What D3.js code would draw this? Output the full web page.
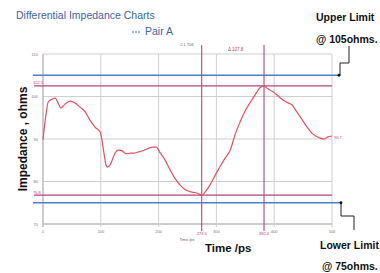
<!DOCTYPE html>
<html>
  <head>
    <meta charset="UTF-8">
    <style type="text/css">
      body { margin: 0; background: #fff; }
      * { font-family: 'Liberation Sans', Arial, sans-serif; }
    </style>
  </head>
  <body>
    <div id="canvas"></div>
    <script src="https://d3js.org/d3.v7.min.js"></script>
    <script type="text/javascript">
      // time (ps) and impedance (ohms) of Pair A
      var times = [0, 5, 9, 16, 21, 26, 31, 38, 47, 55, 64, 73, 81, 90, 99, 102, 106, 109, 112, 118,
        123, 130, 137, 144, 151, 157, 164, 176, 189, 196, 202, 211, 220, 228, 237, 247, 258, 266,
        275, 282, 289, 298, 306, 315, 324, 332, 341, 349, 358, 367, 375, 382, 389, 398, 407, 415,
        424, 431, 438, 445, 452, 458, 465, 472, 479, 486, 493, 500];
      var impedance = [89.8, 95.6, 98.7, 99.4, 99.6, 98.5, 97.3, 98.2, 98.9, 98.5, 97.5, 96.4, 94.5,
        92.8, 91.6, 89.8, 86.2, 83.9, 83.4, 84.4, 86.2, 87.4, 87.2, 86.5, 86.7, 86.7, 86.9, 87.4,
        88.1, 88.1, 86.9, 85.1, 82.7, 80.8, 79.2, 78.0, 77.5, 77.3, 76.8, 77.8, 79.2, 81.5, 83.4,
        85.5, 87.4, 90.9, 94.0, 96.4, 98.5, 100.4, 102.0, 102.5, 101.8, 101.1, 100.1, 99.2, 98.5,
        98.0, 96.6, 95.2, 93.8, 92.6, 91.4, 90.7, 90.2, 90.0, 90.5, 90.7];

      var xTicks = [0, 100, 200, 300, 400, 500];
      var yTicks = [70, 80, 90, 100, 110];
      var limits = [105, 75];            // upper / lower limit, ohms
      var extremes = [102.5, 76.8];      // max / min marker lines
      var cursors = [274.6, 382.4];      // time cursors, ps

      var W = 380, H = 273;
      var svg = d3.select('#canvas').append('svg')
        .attr('width', W).attr('height', H);

      var x = d3.scaleLinear().domain([0, 500]).range([43, 332]);
      var y = d3.scaleLinear().domain([70, 110]).range([224, 54]);

      var blue = '#4f7fcb', pink = '#b5457a', curveCol = '#e4515f', grid = '#cfcfcf';

      // grid
      svg.append('g').selectAll('line').data(yTicks).enter().append('line')
        .attr('x1', x(0)).attr('x2', x(500))
        .attr('y1', d => y(d)).attr('y2', d => y(d))
        .attr('stroke', d => d === 70 ? '#bbb' : grid).attr('stroke-width', d => d === 70 ? 1.5 : 1);
      svg.append('g').selectAll('line').data(xTicks).enter().append('line')
        .attr('x1', d => x(d)).attr('x2', d => x(d))
        .attr('y1', y(110)).attr('y2', y(70) + 3)
        .attr('stroke', d => d === 0 ? '#bbb' : grid).attr('stroke-width', d => d === 0 ? 1.5 : 1);

      // tiny tick labels
      svg.append('g').selectAll('text').data(yTicks).enter().append('text')
        .attr('x', x(0) - 5).attr('y', d => y(d) + 1.5)
        .attr('text-anchor', 'end').attr('font-size', 4).attr('fill', '#777')
        .text(d => d);
      svg.append('g').selectAll('text').data(xTicks).enter().append('text')
        .attr('x', d => x(d)).attr('y', y(70) + 9)
        .attr('text-anchor', 'middle').attr('font-size', 4).attr('fill', '#777')
        .text(d => d);

      // extreme marker lines (pink)
      svg.append('g').selectAll('line').data(extremes).enter().append('line')
        .attr('x1', 34).attr('x2', x(500))
        .attr('y1', d => y(d)).attr('y2', d => y(d))
        .attr('stroke', pink).attr('stroke-width', 1.3);
      svg.append('g').selectAll('text').data(extremes).enter().append('text')
        .attr('x', 33).attr('y', d => y(d) - 1.5)
        .attr('font-size', 4).attr('fill', pink)
        .text(d => d.toFixed(1));

      // limit lines (blue)
      svg.append('g').selectAll('line').data(limits).enter().append('line')
        .attr('x1', 33).attr('x2', (d, i) => i === 0 ? 339 : 341)
        .attr('y1', d => y(d)).attr('y2', d => y(d))
        .attr('stroke', blue).attr('stroke-width', 1.6);

      // cursors
      svg.append('g').selectAll('line').data(cursors).enter().append('line')
        .attr('x1', d => x(d)).attr('x2', d => x(d))
        .attr('y1', 45).attr('y2', 231)
        .attr('stroke', pink).attr('stroke-width', 1.1);
      svg.append('g').selectAll('text').data(cursors).enter().append('text')
        .attr('x', d => x(d)).attr('y', 235)
        .attr('text-anchor', 'middle').attr('font-size', 4).attr('fill', pink)
        .text(d => d.toFixed(1));
      svg.append('text').attr('x', 228).attr('y', 51)
        .attr('font-size', 4.5).attr('fill', pink)
        .text('\u0394 ' + (cursors[1] - cursors[0]).toFixed(1));
      svg.append('text').attr('x', 187).attr('y', 46)
        .attr('text-anchor', 'middle').attr('font-size', 4).attr('fill', '#666')
        .text('2.1 T06');

      // curve
      var pts = times.map((t, i) => [t, impedance[i]]);
      svg.append('path').datum(pts)
        .attr('fill', 'none').attr('stroke', curveCol).attr('stroke-width', 1.2)
        .attr('d', d3.line().x(d => x(d[0])).y(d => y(d[1])).curve(d3.curveMonotoneX));
      svg.append('text').attr('x', 334).attr('y', y(impedance[impedance.length - 1]) + 3)
        .attr('font-size', 4).attr('fill', pink)
        .text(impedance[impedance.length - 1].toFixed(1));

      // titles
      svg.append('text').attr('x', 16).attr('y', 19)
        .attr('font-size', 10.5).attr('fill', '#3d64a8')
        .text('Differential Impedance Charts');
      svg.append('line').attr('x1', 132).attr('x2', 141).attr('y1', 32).attr('y2', 32)
        .attr('stroke', '#3d64a8').attr('stroke-width', 1).attr('stroke-dasharray', '2,1');
      svg.append('text').attr('x', 145).attr('y', 35)
        .attr('font-size', 10.5).attr('fill', '#3d64a8')
        .text('Pair A');

      // axis titles
      svg.append('text')
        .attr('transform', 'translate(27,' + 139 + ') rotate(-90)')
        .attr('text-anchor', 'middle').attr('font-size', 12).attr('font-weight', 'bold')
        .attr('fill', '#111').text('Impedance , ohms');
      svg.append('text').attr('x', 205).attr('y', 252)
        .attr('font-size', 11.5).attr('font-weight', 'bold').attr('fill', '#111')
        .text('Time /ps');
      svg.append('text').attr('x', 187).attr('y', 241)
        .attr('text-anchor', 'middle').attr('font-size', 4).attr('fill', '#666')
        .text('Time /ps');

      // limit callouts
      svg.append('text').attr('x', 316).attr('y', 21)
        .attr('font-size', 10.5).attr('font-weight', 'bold').attr('fill', '#111')
        .text('Upper Limit');
      svg.append('text').attr('x', 316).attr('y', 43)
        .attr('font-size', 10.5).attr('font-weight', 'bold').attr('fill', '#111')
        .text('@ 105ohms.');
      svg.append('path')
        .attr('d', 'M349,46 V63 H340 V' + y(limits[0]))
        .attr('fill', 'none').attr('stroke', '#222').attr('stroke-width', 1);
      svg.append('circle').attr('cx', 339).attr('cy', y(limits[0])).attr('r', 1.4).attr('fill', '#111');

      svg.append('path')
        .attr('d', 'M341,' + y(limits[1]) + ' V216 H354 V230')
        .attr('fill', 'none').attr('stroke', '#222').attr('stroke-width', 1);
      svg.append('circle').attr('cx', 341).attr('cy', y(limits[1])).attr('r', 1.4).attr('fill', '#111');
      svg.append('text').attr('x', 320).attr('y', 249)
        .attr('font-size', 10.5).attr('font-weight', 'bold').attr('fill', '#111')
        .text('Lower Limit');
      svg.append('text').attr('x', 322).attr('y', 270)
        .attr('font-size', 10.5).attr('font-weight', 'bold').attr('fill', '#111')
        .text('@ 75ohms.');
    </script>
  </body>
</html>
